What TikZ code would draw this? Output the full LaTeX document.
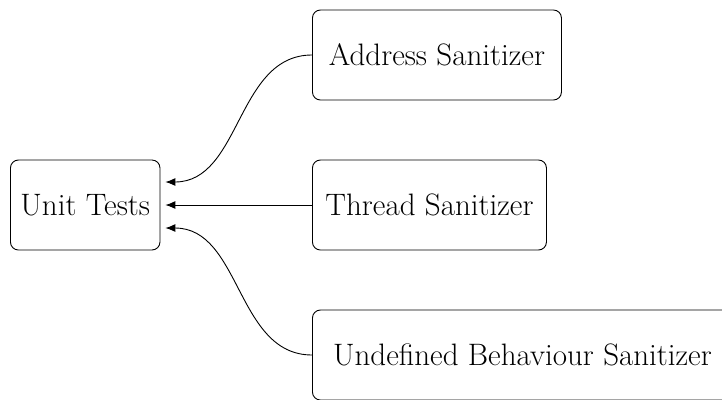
\documentclass[tikz,border=0pt]{standalone}
\usetikzlibrary{arrows.meta}
\begin{document}
\begin{tikzpicture}[x=1pt,y=1pt,
  box/.style={draw, line width=0.9pt, rounded corners=8pt, minimum height=90pt,
    inner xsep=10pt, anchor=west, font=\fontsize{31}{36}\selectfont},
  link/.style={line width=0.9pt, -{Latex[length=10pt,width=8pt]}}]
\useasboundingbox (0,0) rectangle (722,-399);
\node[box] (ut) at (10,-205) {Unit Tests};
\node[box, minimum width=249pt] (asan) at (312,-55) {Address Sanitizer};
\node[box, minimum width=234pt] (tsan) at (312,-205) {Thread Sanitizer};
\node[box, minimum width=420pt] (ubsan) at (312,-355) {Undefined Behaviour Sanitizer};
\coordinate (in1) at ([xshift=5pt,yshift=23pt]ut.east);
\coordinate (in2) at ([xshift=5pt]ut.east);
\coordinate (in3) at ([xshift=5pt,yshift=-23pt]ut.east);
\draw[link] (asan.west) to[out=180,in=0] (in1);
\draw[link] (tsan.west) -- (in2);
\draw[link] (ubsan.west) to[out=180,in=0] (in3);
\end{tikzpicture}
\end{document}
